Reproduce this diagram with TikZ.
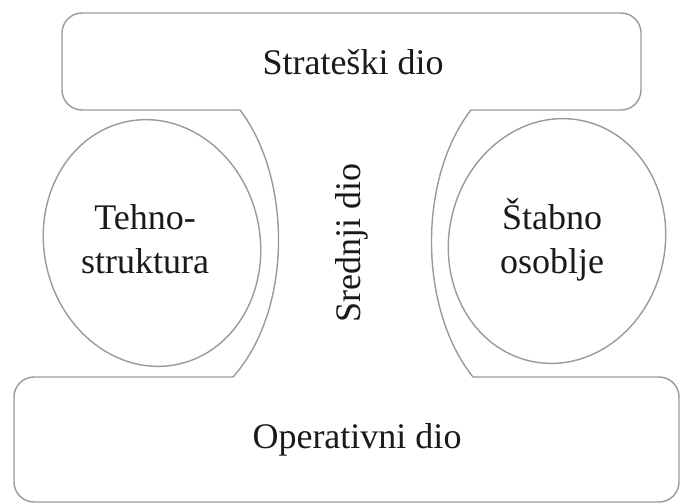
\documentclass[tikz,border=0pt]{standalone}
\usepackage{fontspec}
\setmainfont{Liberation Serif}
\definecolor{edge}{HTML}{9A9A9A}
\definecolor{ink}{HTML}{1A1A1A}
\tikzset{
  outline/.style={draw=edge, line width=1.4pt},
  lbl/.style={text=ink, font=\fontsize{36}{44}\selectfont, inner sep=0pt, align=center},
}
\begin{document}
\begin{tikzpicture}[x=1pt,y=-1pt]
\useasboundingbox[fill=white] (0,0) rectangle (681,504);
% corner points of the shared outline
\coordinate (tl) at (240,110);
\coordinate (tr) at (471,110);
\coordinate (bl) at (233,377);
\coordinate (br) at (473,377);
\draw[outline] (560,110) [rounded corners=20pt] -- (641,110) -- (641,13) -- (62,13) -- (62,110) -- (150,110)
  [sharp corners] -- (tl) .. controls (292,178) and (293,310) .. (bl) -- (150,377)
  [rounded corners=20pt] -- (14,377) -- (14,502) -- (679,502) -- (679,377) -- (560,377)
  [sharp corners] -- (br) .. controls (418,308) and (418,178) .. (tr) -- cycle;
% ellipses
\draw[outline, rotate around={12:(152,243)}] (152,243) ellipse [x radius=108, y radius=124];
\draw[outline, rotate around={-12:(557,241)}] (557,241) ellipse [x radius=108, y radius=123];
% labels
\node[lbl] (strat) at (353,62) {Strateški dio};
\node[lbl] (oper) at (357,440) {Operativni dio};
\node[lbl] (tehno) at (145,239) {Tehno-\\struktura};
\node[lbl] (stab) at (552,240) {Štabno\\osoblje};
\node[lbl, rotate=90] (sred) at (352,243) {Srednji dio};
\end{tikzpicture}
\end{document}
